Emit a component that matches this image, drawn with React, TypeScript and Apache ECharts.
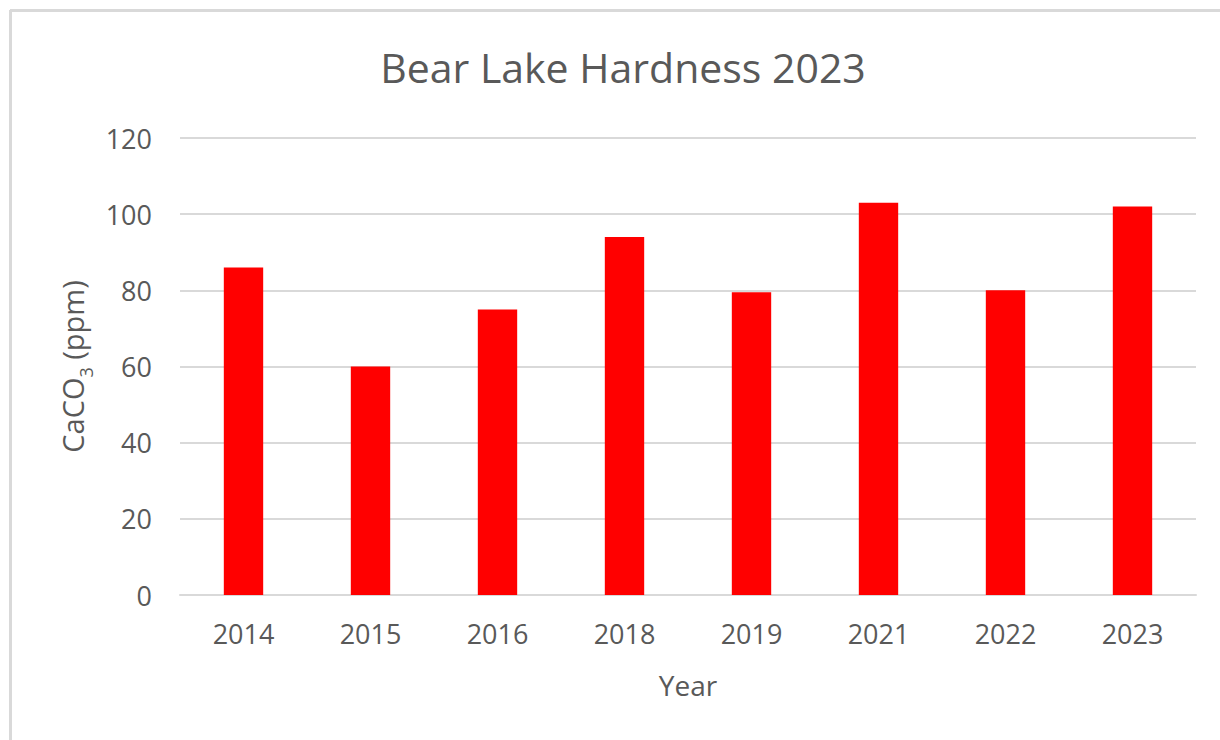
import React, { useEffect, useRef } from "react";
import * as echarts from "echarts";

const years = ["2014", "2015", "2016", "2018", "2019", "2021", "2022", "2023"];
const hardness = [86, 60, 75, 94, 79.5, 103, 80, 102];
const yTicks = { min: 0, max: 120, interval: 20 };
const titleText = "Bear Lake Hardness 2023";
const xName = "Year";

const FONT = "Open Sans";
const TEXT = "#595959";
const GRID = "#d9d9d9";

export default function App() {
  const ref = useRef<HTMLDivElement>(null);
  useEffect(() => {
    if (!ref.current) return;
    const chart = echarts.init(ref.current, undefined, { renderer: "svg" });
    chart.setOption({
      animation: false,
      backgroundColor: "#ffffff",
      title: {
        text: titleText,
        left: 618,
        textAlign: "center",
        top: 41,
        textStyle: { fontFamily: FONT, fontSize: 41, fontWeight: "normal", color: TEXT },
      },
      grid: { left: 180, right: 24, top: 138, bottom: 145 },
      xAxis: {
        type: "category",
        data: years,
        name: xName,
        nameLocation: "middle",
        nameGap: 76,
        nameTextStyle: { fontFamily: FONT, fontSize: 28, color: TEXT },
        axisLine: { lineStyle: { color: GRID, width: 2 } },
        axisTick: { show: false },
        axisLabel: { fontFamily: FONT, fontSize: 27, color: TEXT, margin: 25 },
      },
      yAxis: {
        type: "value",
        min: yTicks.min,
        max: yTicks.max,
        interval: yTicks.interval,
        name: "{a|CaCO}{s|3}{a| (ppm)}",
        nameLocation: "middle",
        nameGap: 89,
        nameRotate: 90,
        nameTextStyle: {
          rich: {
            a: { fontFamily: FONT, fontSize: 29, color: TEXT, lineHeight: 34, verticalAlign: "bottom" },
            s: { fontFamily: FONT, fontSize: 18, color: TEXT, lineHeight: 34, verticalAlign: "bottom", padding: [0, 0, -8, 0] },
          },
        },
        axisLine: { show: false },
        axisTick: { show: false },
        splitLine: { lineStyle: { color: GRID, width: 2 } },
        axisLabel: { fontFamily: FONT, fontSize: 27, color: TEXT, margin: 28 },
      },
      series: [
        {
          type: "bar",
          data: hardness,
          barWidth: "31%",
          itemStyle: { color: "#ff0000" },
        },
      ],
      graphic: [
        { type: "line", shape: { x1: 10, y1: 10.5, x2: 1220, y2: 10.5 }, style: { stroke: GRID, lineWidth: 3 } },
        { type: "line", shape: { x1: 10.5, y1: 10, x2: 10.5, y2: 740 }, style: { stroke: GRID, lineWidth: 3 } },
      ],
    });
    return () => chart.dispose();
  }, []);
  return (
    <div
      ref={ref}
      style={{ position: "fixed", left: 0, top: 0, width: 1220, height: 740, background: "#fff" }}
    />
  );
}
